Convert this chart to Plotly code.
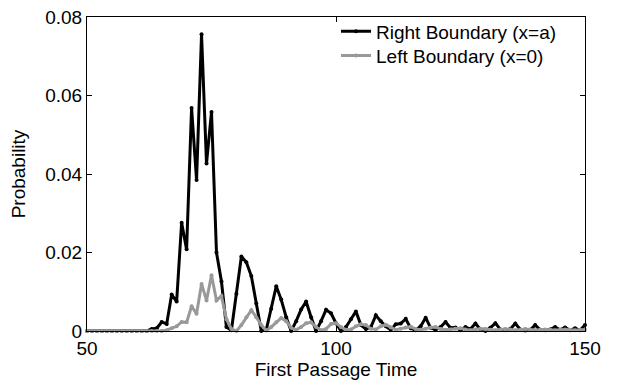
import plotly.graph_objects as go

times = list(range(50, 151))

right_boundary = [
    0, 0, 0, 0, 0, 0, 0, 0, 0, 0,            # 50-59
    0, 0, 0, 0.0005, 0.0007, 0.0023, 0.0018, 0.0093, 0.0075, 0.0276,  # 60-69
    0.0208, 0.0568, 0.0385, 0.0756, 0.0427, 0.0558, 0.0200, 0.0126, 0.0010, 0.0002,  # 70-79
    0.0095, 0.0190, 0.0175, 0.0140, 0.0070, 0.0000, 0.0003, 0.0057, 0.0114, 0.0080,  # 80-89
    0.0035, 0.0000, 0.0025, 0.0055, 0.0075, 0.0035, 0.0000, 0.0025, 0.0054, 0.0045,  # 90-99
    0.0020, 0.0000, 0.0010, 0.0030, 0.0050, 0.0015, 0.0005, 0.0010, 0.0040, 0.0025,  # 100-109
    0.0012, 0.0003, 0.0017, 0.0019, 0.0031, 0.0007, 0.0002, 0.0012, 0.0034, 0.0008,  # 110-119
    0.0003, 0.0010, 0.0023, 0.0008, 0.0009, 0.0002, 0.0010, 0.0005, 0.0019, 0.0004,  # 120-129
    0.0000, 0.0008, 0.0020, 0.0004, 0.0002, 0.0005, 0.0019, 0.0004, 0.0001, 0.0003,  # 130-139
    0.0015, 0.0003, 0.0002, 0.0004, 0.0010, 0.0003, 0.0009, 0.0002, 0.0007, 0.0002,  # 140-149
    0.0015,                                   # 150
]

left_boundary = [
    0, 0, 0, 0, 0, 0, 0, 0, 0, 0,            # 50-59
    0, 0, 0, 0, 0, 0, 0.0002, 0.0007, 0.0012, 0.0023,  # 60-69
    0.0022, 0.0063, 0.0044, 0.0120, 0.0078, 0.0142, 0.0078, 0.0089, 0.0030, 0.0005,  # 70-79
    0.0000, 0.0015, 0.0035, 0.0053, 0.0035, 0.0015, 0.0001, 0.0010, 0.0022, 0.0033,  # 80-89
    0.0025, 0.0008, 0.0003, 0.0010, 0.0020, 0.0022, 0.0010, 0.0002, 0.0005, 0.0018,  # 90-99
    0.0020, 0.0010, 0.0003, 0.0004, 0.0012, 0.0017, 0.0015, 0.0006, 0.0004, 0.0012,  # 100-109
    0.0016, 0.0009, 0.0003, 0.0006, 0.0009, 0.0011, 0.0005, 0.0003, 0.0006, 0.0009,  # 110-119
    0.0010, 0.0005, 0.0003, 0.0004, 0.0006, 0.0007, 0.0004, 0.0002, 0.0004, 0.0006,  # 120-129
    0.0005, 0.0003, 0.0002, 0.0004, 0.0005, 0.0004, 0.0002, 0.0003, 0.0005, 0.0004,  # 130-139
    0.0002, 0.0003, 0.0004, 0.0003, 0.0002, 0.0003, 0.0004, 0.0003, 0.0002, 0.0003,  # 140-149
    0.0003,                                   # 150
]

x_ticks = [50, 100, 150]
y_ticks = [0, 0.02, 0.04, 0.06, 0.08]
y_tick_labels = ["0", "0.02", "0.04", "0.06", "0.08"]

FONT = "Liberation Sans, Arial, sans-serif"
FS = 19

fig = go.Figure()
fig.add_trace(go.Scatter(
    x=times, y=right_boundary, mode="lines+markers",
    name="Right Boundary (x=a)",
    line=dict(color="black", width=3),
    marker=dict(color="black", size=4),
    cliponaxis=False, legend="legend",
))
fig.add_trace(go.Scatter(
    x=times, y=left_boundary, mode="lines+markers",
    name="Left Boundary (x=0)",
    line=dict(color="#999999", width=3),
    marker=dict(color="#999999", size=4),
    cliponaxis=False, legend="legend2",
))

axis_common = dict(
    showgrid=False, zeroline=False, showline=True, linecolor="black",
    linewidth=1, mirror="ticks", ticks="inside", ticklen=5,
    tickcolor="black", tickfont=dict(family=FONT, size=FS, color="black"),
    ticklabeloverflow="allow",
)

legend_common = dict(
    xanchor="left", yanchor="middle",
    bgcolor="rgba(255,255,255,0)", borderwidth=0,
    font=dict(family=FONT, size=FS, color="black"),
    itemwidth=30,
)

fig.update_layout(
    width=618, height=392,
    margin=dict(l=87, r=33, t=7, b=61),
    paper_bgcolor="white", plot_bgcolor="white",
    font=dict(family=FONT, size=FS, color="black"),
    showlegend=True,
    legend=dict(x=0.50, y=0.954, **legend_common),
    legend2=dict(x=0.50, y=0.877, **legend_common),
    xaxis=dict(
        range=[50, 150], tickvals=x_ticks,
        title=dict(text="First Passage Time", font=dict(family=FONT, size=FS), standoff=0),
        ticklabelstandoff=0,
        **axis_common,
    ),
    yaxis=dict(
        range=[0, 0.08], tickvals=y_ticks, ticktext=y_tick_labels,
        title=dict(text="Probability", font=dict(family=FONT, size=FS), standoff=14),
        **axis_common,
    ),
)

fig.write_html("out.html")
